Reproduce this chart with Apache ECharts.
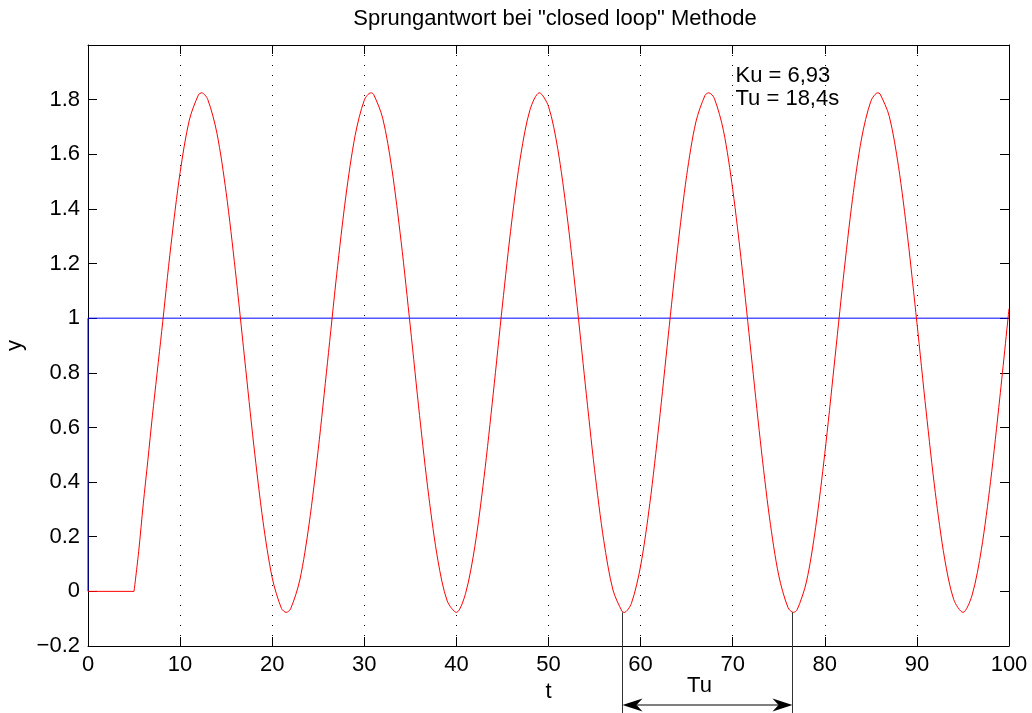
<!DOCTYPE html>
<html>
<head>
<meta charset="utf-8">
<script src="https://cdn.jsdelivr.net/npm/echarts@6/dist/echarts.min.js"></script>
<style>html,body{margin:0;padding:0;background:#fff}#c{width:1032px;height:713px}</style>
</head>
<body>
<div id="c"></div>
<script>
// ---- data ----
const titleText = 'Sprungantwort bei "closed loop" Methode';
const xTicksMin = 0, xTicksMax = 100, xTickStep = 10;
const yTicksMin = -0.2, yTicksMax = 2.0, yTickStep = 0.2;

// reference step (blue)
const stepT = [0, 0, 100];
const stepY = [0, 1, 1];

// flat part of the response (red, before dead time)
const deadT = [0, 5];
const deadY = [0, 0];

// oscillating response (red)
const respT = [5, 5.5, 6, 6.5, 7, 8, 9, 10, 11, 12, 12.35, 13, 14, 15, 16, 17, 18, 19, 20, 21, 21.525,
  22, 23, 24, 25, 26, 27, 28, 29, 30, 30.7, 31, 32, 33, 34, 35, 36, 37, 38, 39,
  40, 41, 42, 43, 44, 45, 46, 47, 48, 49, 50, 51, 52, 53, 54, 55, 56, 57, 58, 58.225,
  59, 60, 61, 62, 63, 64, 65, 66, 67, 67.4, 68, 69, 70, 71, 72, 73, 74, 75, 76, 76.575,
  77, 78, 79, 80, 81, 82, 83, 84, 85, 85.75, 86, 87, 88, 89, 90, 91, 92, 93, 94,
  95, 96, 97, 98, 99, 100];
const respY = [0, 0.145, 0.32, 0.48, 0.645, 0.951, 1.265, 1.533, 1.725, 1.818, 1.825, 1.801, 1.677, 1.460, 1.174, 0.854, 0.536, 0.257, 0.050, -0.062, -0.077,
  -0.064, 0.042, 0.245, 0.520, 0.837, 1.159, 1.447, 1.668, 1.798, 1.825, 1.820, 1.732, 1.545, 1.280, 0.968, 0.644, 0.348, 0.112, -0.035,
  -0.077, -0.007, 0.164, 0.417, 0.724, 1.048, 1.352, 1.600, 1.764, 1.825, 1.775, 1.621, 1.380, 1.080, 0.756, 0.446, 0.186, 0.005, -0.074, -0.077,
  -0.044, 0.093, 0.321, 0.613, 0.935, 1.250, 1.522, 1.718, 1.816, 1.825, 1.805, 1.686, 1.472, 1.189, 0.870, 0.551, 0.269, 0.058, -0.059, -0.077,
  -0.067, 0.034, 0.233, 0.505, 0.821, 1.143, 1.434, 1.659, 1.794, 1.825, 1.821, 1.739, 1.556, 1.294, 0.984, 0.660, 0.361, 0.122, -0.030,
  -0.077, -0.013, 0.153, 0.403, 0.708, 1.035];

// annotations
const annoLines = ['Ku = 6,93', 'Tu = 18,4s'];
const annoAt = [70.3, 1.93];
const tuStart = 58.0, tuEnd = 76.45, tuTroughY = -0.077;
const tuLabel = 'Tu';

// ---- chart ----
const FONT = 'Liberation Sans, Arial, Helvetica, sans-serif';
const FS = 22;
const zip = (a, b) => a.map((v, i) => [v, b[i]]);
const fmt = v => {
  if (v > 1.95) return '';
  const s = String(parseFloat(v.toFixed(1)));
  return s.replace('-', '\u2212');
};

const chart = echarts.init(document.getElementById('c'), null, { renderer: 'canvas' });
const axisLineStyle = { show: true, onZero: false, lineStyle: { color: '#000', width: 1 } };
const tickStyle = { show: true, inside: true, length: 9, lineStyle: { color: '#000', width: 1 } };
const labelStyle = { color: '#000', fontFamily: FONT, fontSize: FS };

chart.setOption({
  animation: false,
  backgroundColor: '#fff',
  title: {
    text: titleText, left: 550, top: 3, textAlign: 'center',
    textStyle: { fontFamily: FONT, fontSize: FS, fontWeight: 'normal', color: '#000' }
  },
  grid: { left: 88, right: 23, top: 45, bottom: 67, containLabel: false, outerBoundsMode: 'none' },
  xAxis: [{
    type: 'value', min: xTicksMin, max: xTicksMax, interval: xTickStep,
    name: 't', nameLocation: 'middle', nameGap: 31,
    nameTextStyle: labelStyle,
    axisLine: axisLineStyle, axisTick: tickStyle,
    axisLabel: Object.assign({ margin: 8 }, labelStyle),
    splitLine: { show: true, lineStyle: { color: '#000', width: 1, type: [1, 9] } }
  }, {
    type: 'value', position: 'top', min: xTicksMin, max: xTicksMax, interval: xTickStep,
    axisLine: axisLineStyle, axisTick: tickStyle,
    axisLabel: { show: false }, splitLine: { show: false }
  }],
  yAxis: [{
    type: 'value', min: yTicksMin, max: yTicksMax, interval: yTickStep,
    name: 'y', nameLocation: 'middle', nameGap: 62,
    nameTextStyle: labelStyle,
    axisLine: axisLineStyle, axisTick: tickStyle,
    axisLabel: Object.assign({ margin: 8, formatter: fmt }, labelStyle),
    splitLine: { show: false }
  }, {
    type: 'value', position: 'right', min: yTicksMin, max: yTicksMax, interval: yTickStep,
    axisLine: axisLineStyle, axisTick: tickStyle,
    axisLabel: { show: false }, splitLine: { show: false }
  }],
  series: [{
    type: 'line', data: zip(stepT, stepY), showSymbol: false,
    lineStyle: { color: '#0000ff', width: 1 }, z: 3
  }, {
    type: 'line', data: zip(deadT, deadY), showSymbol: false,
    lineStyle: { color: '#ff0000', width: 1 }, z: 4
  }, {
    type: 'line', data: zip(respT, respY), showSymbol: false, smooth: 0.3,
    lineStyle: { color: '#ff0000', width: 1 }, z: 4
  }]
});

const px = (t, y) => chart.convertToPixel({ xAxisIndex: 0, yAxisIndex: 0 }, [t, y]);
const H = 713;
const a = px(annoAt[0], annoAt[1]);
const s = px(tuStart, tuTroughY);
const e = px(tuEnd, tuTroughY);
const arrowY = H - 8;
const xs = Math.round(s[0]) + 0.5, xe = Math.round(e[0]) + 0.5;
const AL = 20, AW = 6.5, AN = 14;

chart.setOption({
  graphic: [
    { type: 'text', x: a[0], y: a[1], style: { text: annoLines.join('\n'), fontFamily: FONT, fontSize: FS, lineHeight: 23, fill: '#000', align: 'left', verticalAlign: 'top' }, z: 10 },
    { type: 'line', shape: { x1: xs, y1: s[1], x2: xs, y2: H }, style: { stroke: '#333', lineWidth: 1 }, z: 10 },
    { type: 'line', shape: { x1: xe, y1: e[1], x2: xe, y2: H }, style: { stroke: '#333', lineWidth: 1 }, z: 10 },
    { type: 'line', shape: { x1: xs + AN, y1: arrowY, x2: xe - AN, y2: arrowY }, style: { stroke: '#000', lineWidth: 1 }, z: 10 },
    { type: 'polygon', shape: { points: [[xs, arrowY], [xs + AL, arrowY - AW], [xs + AN, arrowY], [xs + AL, arrowY + AW]] }, style: { fill: '#000' }, z: 10 },
    { type: 'polygon', shape: { points: [[xe, arrowY], [xe - AL, arrowY - AW], [xe - AN, arrowY], [xe - AL, arrowY + AW]] }, style: { fill: '#000' }, z: 10 },
    { type: 'text', x: (xs + xe) / 2 - 8, y: arrowY - 8, style: { text: tuLabel, fontFamily: FONT, fontSize: FS, fill: '#000', align: 'center', verticalAlign: 'bottom' }, z: 10 }
  ]
});
</script>
</body>
</html>
